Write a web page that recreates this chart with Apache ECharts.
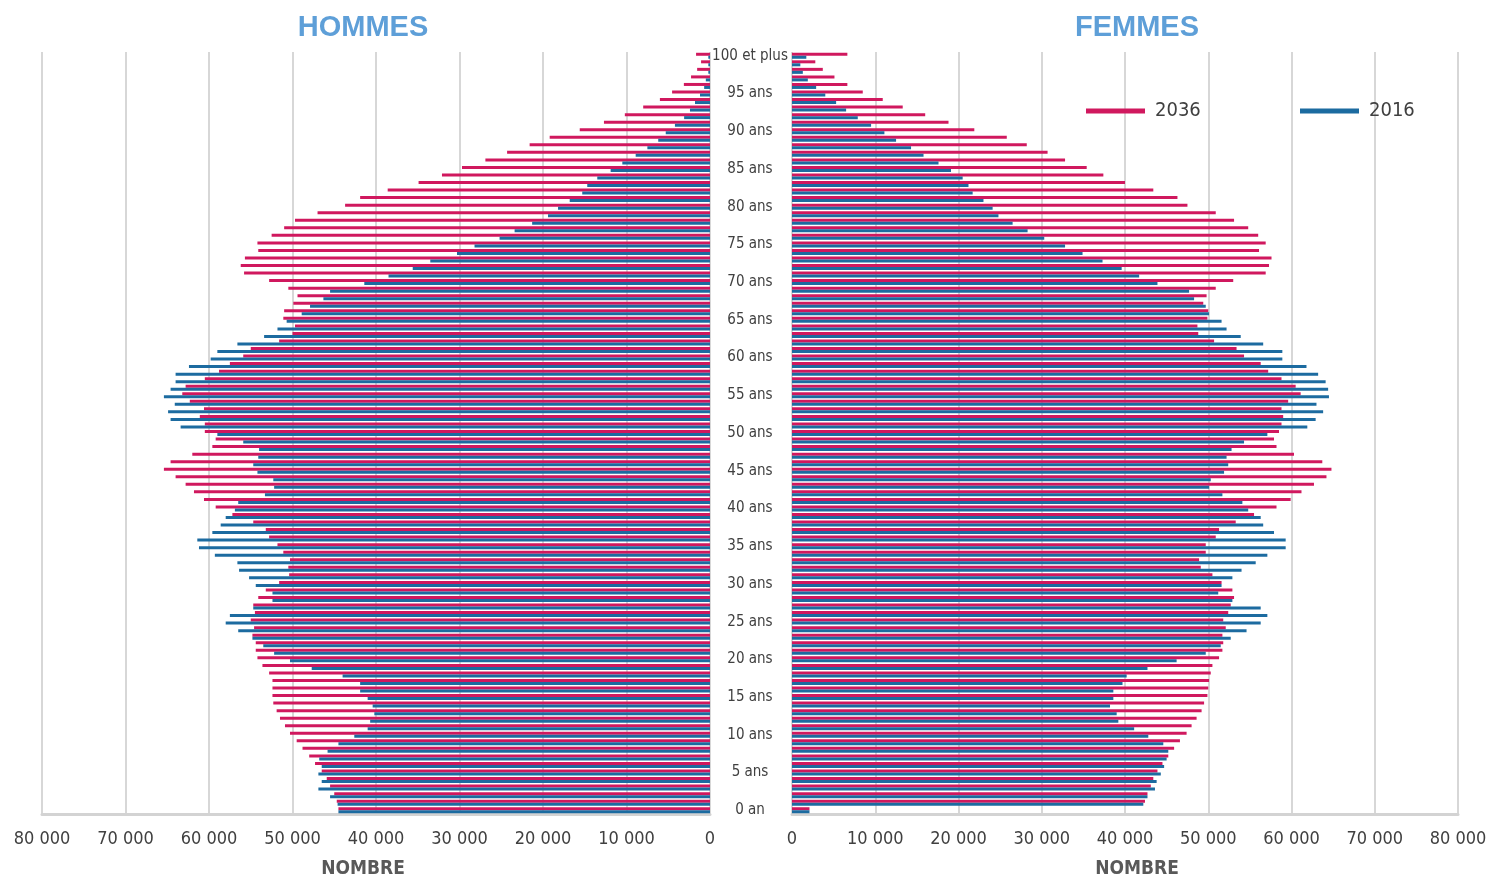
<!DOCTYPE html>
<html><head><meta charset="utf-8">
<script src="https://cdn.jsdelivr.net/npm/echarts@6/dist/echarts.min.js"></script>
<style>html,body{margin:0;padding:0;background:#fff}#c{width:1494px;height:880px}</style>
</head><body><div id="c"></div><script>
// Ages 0 .. 100 (100 = "100 et plus")
const ages = [0,1,2,3,4,5,6,7,8,9,10,11,12,13,14,15,16,17,18,19,20,21,22,23,24,25,26,27,28,29,
30,31,32,33,34,35,36,37,38,39,40,41,42,43,44,45,46,47,48,49,50,51,52,53,54,55,56,57,58,59,
60,61,62,63,64,65,66,67,68,69,70,71,72,73,74,75,76,77,78,79,80,81,82,83,84,85,86,87,88,89,
90,91,92,93,94,95,96,97,98,99,100];

const xTicks = [0,10000,20000,30000,40000,50000,60000,70000,80000];

const hommes2036 = [44500,44700,45000,45500,45900,46500,47300,48000,48800,49500,
50300,50900,51500,51900,52300,52400,52400,52400,52800,53600,
54200,54400,54400,54800,54600,55000,54500,54700,54100,53200,
51600,50400,50500,50300,51100,51800,52800,53200,54700,57200,
59200,60600,61800,62800,64000,65400,64600,62000,59600,59200,
60500,60500,61100,60600,62300,63200,62800,60500,58800,57500,
55900,55000,51600,50000,49700,51100,51000,49900,49400,50500,
52800,55800,56200,55700,54100,54200,52500,51000,49700,47000,
43700,41900,38600,34900,32100,29700,26900,24300,21600,19200,
15600,12700,10200,8000,6000,4540,3130,2270,1540,1070,
1670];

const hommes2016 = [44500,44600,45500,46900,46500,46900,46500,46800,45800,44500,
42600,41000,40700,40200,40400,41000,41900,41900,44000,47700,
50300,52200,53500,54800,56500,58000,57500,54700,52400,52400,
54400,55200,56400,56600,59300,61200,61400,59600,58600,58000,
56900,56500,53300,52200,52300,54200,54700,54100,54000,55900,
59000,63400,64600,64900,64100,65400,64600,64000,64000,62400,
59800,59000,56600,53400,51800,50700,48900,47900,46300,45500,
41400,38500,35600,33500,30300,28200,25200,23400,21300,19400,
18200,16800,15300,14700,13500,11900,10500,8900,7500,6200,
5300,4200,3100,2400,1800,1200,700,500,200,200,
200];

const femmes2036 = [2100,42400,42700,43100,43400,43900,44500,45200,45900,46600,
47400,48000,48600,49200,49500,49900,50000,50100,50300,50500,
51300,51700,51800,51700,52100,51800,52400,52700,53100,52900,
51600,50500,49100,48900,49700,49700,50900,51300,53300,55500,
58200,59900,61200,62700,64200,64800,63700,60300,58200,57900,
58500,58800,59000,58800,59600,61100,60500,58800,57200,56300,
54300,53400,50700,48800,48700,49900,50000,49400,49800,50900,
53000,56900,57300,57600,56100,56900,56000,54800,53100,50900,
47500,46300,43400,40000,37400,35400,32800,30700,28200,25800,
21900,18800,16000,13300,10900,8500,6650,5100,3700,2800,
6650];

const femmes2016 = [2100,42200,42700,43600,43800,44300,44700,45000,45200,44600,
42800,41100,39200,39000,38200,38600,38600,39700,40200,42700,
46200,49700,51500,52700,54600,56300,57100,56300,52900,51200,
51600,52900,54000,55700,57100,59300,59300,57900,56600,56300,
54800,54100,51700,50100,50300,51900,52400,52200,52800,54300,
57100,61900,62900,63800,63000,64500,64400,64100,63200,61800,
58900,58900,56600,53900,52200,51600,50100,49700,48300,47700,
43900,41700,39600,37300,34900,32800,30300,28300,26500,24800,
24100,23000,21700,21200,20500,19100,17600,15800,14300,12500,
11100,9500,7900,6500,5300,4000,2900,1900,1300,1000,
1720];

const PINK = '#D0185E', BLUE = '#1C6BA0';
const NARROW = "'Liberation Sans Narrow','Arial Narrow','DejaVu Sans Condensed',sans-serif";
const fmt = v => v === 0 ? '0' : (v / 1000) + ' 000';
const ageLabel = a => { a = +a; return a === 0 ? '0 an' : (a === 100 ? '100 et plus' : a + ' ans'); };

const chart = echarts.init(document.getElementById('c'));
const xAxisBase = {
  type: 'value', min: xTicks[0], max: xTicks[xTicks.length - 1], interval: xTicks[1] - xTicks[0],
  axisLine: { show: true, lineStyle: { color: '#D3D3D3', width: 3 } },
  axisTick: { show: false },
  splitLine: { show: true, lineStyle: { color: '#CACACA', width: 1.5 } },
  axisLabel: { formatter: fmt, color: '#404040', fontSize: 18, fontFamily: NARROW, margin: 16 }
};
const barBase = { type: 'bar', barWidth: 3, barGap: '0%', silent: true };
const legendText = { color: '#404040', fontSize: 20, fontFamily: NARROW, padding: [0, 0, 0, 5] };

chart.setOption({
  animation: false,
  grid: [
    { left: 42, width: 668, top: 52, height: 762 },
    { left: 792, width: 666, top: 52, height: 762 }
  ],
  xAxis: [
    Object.assign({}, xAxisBase, { gridIndex: 0, inverse: true }),
    Object.assign({}, xAxisBase, { gridIndex: 1 })
  ],
  yAxis: [
    { gridIndex: 0, type: 'category', data: ages, axisLine: { show: false }, axisTick: { show: false }, axisLabel: { show: false } },
    { gridIndex: 1, type: 'category', data: ages, axisLine: { show: false }, axisTick: { show: false },
      axisLabel: { interval: 4, formatter: ageLabel, align: 'center', margin: 42, color: '#404040', fontSize: 15, fontFamily: NARROW } }
  ],
  legend: [
    { data: ['2036'], left: 1081, top: 96, icon: 'rect', itemWidth: 59, itemHeight: 5, selectedMode: false, textStyle: legendText },
    { data: ['2016'], left: 1295, top: 96, icon: 'rect', itemWidth: 59, itemHeight: 5, selectedMode: false, textStyle: legendText }
  ],
  graphic: [
    { type: 'text', x: 363, y: 28, style: { text: 'HOMMES', fill: '#5E9FD8', font: "bold 29px 'Liberation Sans', Arial, sans-serif", align: 'center', verticalAlign: 'middle', textAlign: 'center', textVerticalAlign: 'middle' } },
    { type: 'text', x: 1137, y: 28, style: { text: 'FEMMES', fill: '#5E9FD8', font: "bold 29px 'Liberation Sans', Arial, sans-serif", align: 'center', verticalAlign: 'middle', textAlign: 'center', textVerticalAlign: 'middle' } },
    { type: 'text', x: 363, y: 869, style: { text: 'NOMBRE', fill: '#595959', font: "bold 19px " + NARROW, align: 'center', verticalAlign: 'middle', textAlign: 'center', textVerticalAlign: 'middle' } },
    { type: 'text', x: 1137, y: 869, style: { text: 'NOMBRE', fill: '#595959', font: "bold 19px " + NARROW, align: 'center', verticalAlign: 'middle', textAlign: 'center', textVerticalAlign: 'middle' } }
  ],
  series: [
    Object.assign({}, barBase, { name: '2036', xAxisIndex: 0, yAxisIndex: 0, data: hommes2036, itemStyle: { color: PINK } }),
    Object.assign({}, barBase, { name: '2016', xAxisIndex: 0, yAxisIndex: 0, data: hommes2016, itemStyle: { color: BLUE } }),
    Object.assign({}, barBase, { name: '2036', xAxisIndex: 1, yAxisIndex: 1, data: femmes2036, itemStyle: { color: PINK } }),
    Object.assign({}, barBase, { name: '2016', xAxisIndex: 1, yAxisIndex: 1, data: femmes2016, itemStyle: { color: BLUE } })
  ]
});
</script></body></html>
